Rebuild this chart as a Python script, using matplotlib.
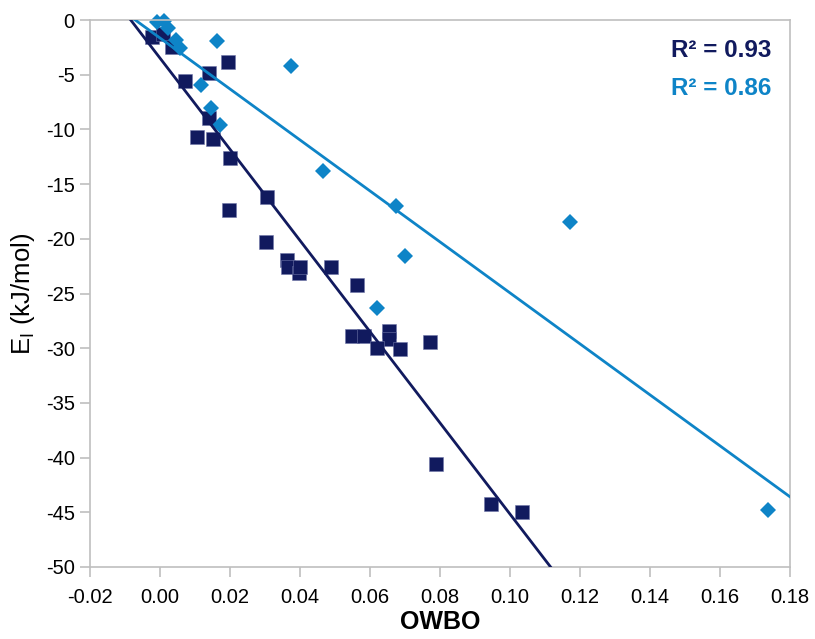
import matplotlib
matplotlib.use("Agg")
import matplotlib.pyplot as plt
import numpy as np

plt.rcParams['font.family'] = ['Liberation Sans', 'DejaVu Sans']
plt.rcParams['axes.unicode_minus'] = False

DARK = '#111a5e'
LIGHT = '#0e84c7'
GRAY = '#bfbfbf'

# series 1 (squares)
owbo_sq = [-0.0023, 0.0009, 0.0034, 0.0071, 0.0140, 0.0194, 0.0106, 0.0140, 0.0151,
           0.0200, 0.0197, 0.0306, 0.0303, 0.0363, 0.0366, 0.0397, 0.0400, 0.0489,
           0.0563, 0.0549, 0.0583, 0.0654, 0.0654, 0.0620, 0.0686, 0.0771, 0.0789,
           0.0946, 0.1034]
ei_sq = [-1.55, -1.3, -2.5, -5.6, -4.8, -3.8, -10.7, -9.0, -10.9,
         -12.6, -17.4, -16.2, -20.3, -21.9, -22.6, -23.1, -22.6, -22.6,
         -24.2, -28.9, -28.9, -28.4, -29.2, -30.0, -30.1, -29.4, -40.6,
         -44.2, -45.0]

# series 2 (diamonds)
owbo_dm = [-0.0009, 0.0011, 0.0023, 0.0045, 0.0057, 0.0163, 0.0374, 0.0117,
           0.0146, 0.0171, 0.0466, 0.0674, 0.0700, 0.0620, 0.1171, 0.1737]
ei_dm = [-0.2, -0.1, -0.7, -1.8, -2.6, -1.9, -4.2, -5.9,
         -8.0, -9.6, -13.8, -17.0, -21.6, -26.3, -18.5, -44.8]

r2_labels = ['R² = 0.93', 'R² = 0.86']

fig = plt.figure(figsize=(8.15, 6.39), dpi=100)
ax = fig.add_axes([90 / 815, 1 - 567 / 639, 700 / 815, 547 / 639])

xs = np.linspace(-0.03, 0.2, 50)
for x, y, color in [(owbo_sq, ei_sq, DARK), (owbo_dm, ei_dm, LIGHT)]:
    k, b = np.polyfit(x, y, 1)
    ax.plot(xs, k * xs + b, color=color, lw=2, zorder=3)

# markers may poke out over the top edge, as in the original
ax.plot(owbo_sq, ei_sq, 's', color=DARK, ms=10.5, mec='#6f76a8', mew=0.4,
        zorder=2, clip_on=False)
ax.plot(owbo_dm, ei_dm, 'D', color=LIGHT, ms=8.3, mec=LIGHT, mew=0,
        zorder=2, clip_on=False)

ax.set_xlim(-0.02, 0.18)
ax.set_ylim(-50, 0)
ax.set_xticks(np.arange(-0.02, 0.181, 0.02))
ax.set_xticklabels([f"{v:.2f}" for v in np.arange(-0.02, 0.181, 0.02)])
ax.set_yticks(np.arange(-50, 1, 5))

for s in ax.spines.values():
    s.set_color(GRAY)
    s.set_linewidth(1.2)
ax.tick_params(axis='both', direction='out', length=7, width=1.2, color=GRAY,
               labelsize=14.5, pad=4)
ax.tick_params(axis='x', pad=8)

ax.set_xlabel('OWBO', fontsize=18, fontweight='bold', labelpad=2)
ax.set_ylabel('E$_\\mathregular{I}$ (kJ/mol)', fontsize=18.5, labelpad=6)

ax.text(0.974, 0.945, r2_labels[0], transform=ax.transAxes, ha='right', va='center',
        color=DARK, fontsize=17.5, fontweight='bold')
ax.text(0.974, 0.875, r2_labels[1], transform=ax.transAxes, ha='right', va='center',
        color=LIGHT, fontsize=17.5, fontweight='bold')

fig.savefig('out.png', dpi=100)
